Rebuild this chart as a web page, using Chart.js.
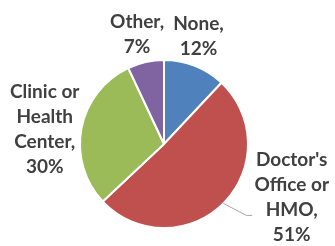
<!DOCTYPE html>
<html>
<head>
<meta charset="utf-8">
<script src="https://cdn.jsdelivr.net/npm/chart.js@4/dist/chart.umd.min.js"></script>
<style>
html,body{margin:0;padding:0;background:#fff;}
#wrap{width:335px;height:246px;position:relative;}
</style>
</head>
<body>
<div id="wrap"><canvas id="c" width="335" height="246"></canvas></div>
<script>
// Data
const categories = ["None", "Doctor's Office or HMO", "Clinic or Health Center", "Other"];
const labelLines = [["None,", "12%"], ["Doctor's", "Office or", "HMO,", "51%"], ["Clinic or", "Health", "Center,", "30%"], ["Other,", "7%"]];
const values = [12, 51, 30, 7];
const colors = ["#4F81BD", "#C0504D", "#9BBB59", "#8064A2"];

// Label layout (offset of label block centre from pie centre, in radius units)
const labelOffsets = [[0.41, -1.28], [1.52, 0.63], [-1.42, -0.17], [-0.32, -1.31]];
const leaderIndex = 1;
const leaderPoints = [[0.98, 0.85], [1.05, 0.85]];

const labelPlugin = {
  id: 'pieLabels',
  afterDatasetsDraw(chart) {
    const ctx = chart.ctx;
    const meta = chart.getDatasetMeta(0);
    const lh = 25;
    ctx.save();
    ctx.font = 'bold 19px Lato, "Liberation Sans", sans-serif';
    ctx.fillStyle = '#404040';
    ctx.textAlign = 'center';
    ctx.textBaseline = 'middle';
    meta.data.forEach((arc, i) => {
      const p = arc.getProps(['x', 'y', 'outerRadius', 'startAngle', 'endAngle'], true);
      const R = p.outerRadius;
      const cx = p.x + labelOffsets[i][0] * R;
      const cy = p.y + labelOffsets[i][1] * R;
      const lines = labelLines[i];
      const y0 = cy - (lines.length - 1) * lh / 2;
      lines.forEach((t, k) => ctx.fillText(t, cx, y0 + k * lh));
      if (i === leaderIndex) {
        const mid = (p.startAngle + p.endAngle) / 2;
        ctx.beginPath();
        ctx.strokeStyle = '#A6A6A6';
        ctx.lineWidth = 1;
        ctx.moveTo(p.x + Math.cos(mid) * R, p.y + Math.sin(mid) * R);
        leaderPoints.forEach(q => ctx.lineTo(p.x + q[0] * R, p.y + q[1] * R));
        ctx.stroke();
      }
    });
    ctx.restore();
  }
};

new Chart(document.getElementById('c'), {
  type: 'pie',
  data: {
    labels: categories,
    datasets: [{
      data: values,
      backgroundColor: colors,
      borderColor: '#ffffff',
      borderWidth: 2
    }]
  },
  options: {
    responsive: false,
    animation: false,
    layout: { padding: { top: 59, bottom: 17, left: 79, right: 86 } },
    plugins: { legend: { display: false }, tooltip: { enabled: false } }
  },
  plugins: [labelPlugin]
});
</script>
</body>
</html>
